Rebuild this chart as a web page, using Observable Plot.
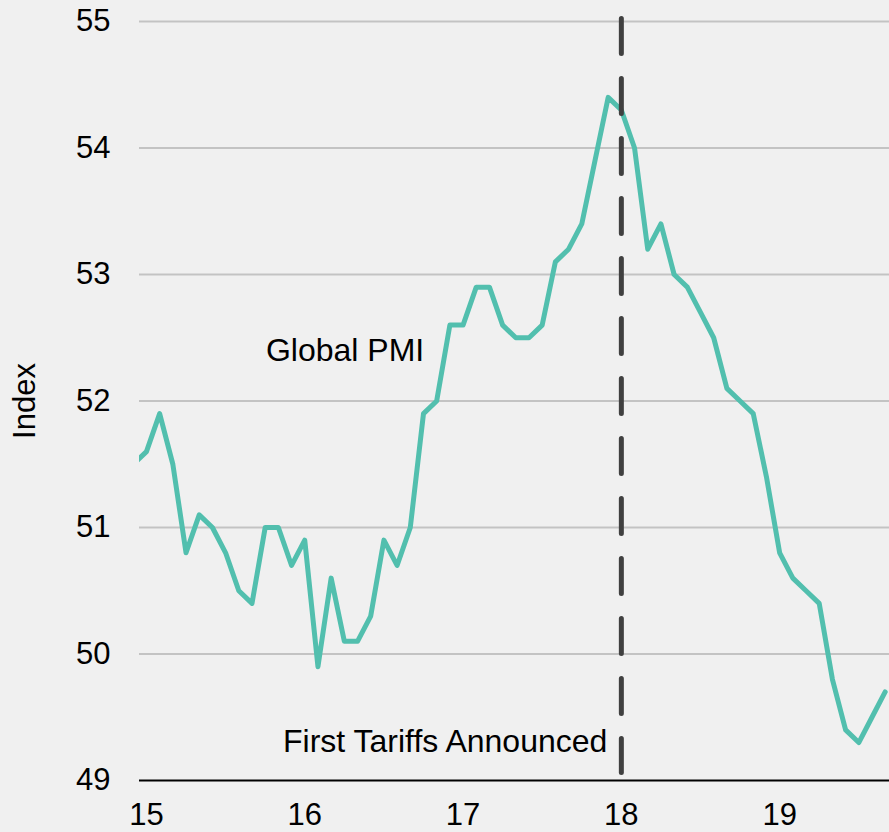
<!DOCTYPE html>
<html>
<head>
<meta charset="utf-8">
<script src="https://cdn.jsdelivr.net/npm/d3@7"></script>
<script src="https://cdn.jsdelivr.net/npm/@observablehq/plot@0.6"></script>
<style>
  html, body { margin: 0; padding: 0; background: #f0f0f0; }
  #chart { width: 889px; height: 832px; overflow: hidden; }
  svg { display: block; }
</style>
</head>
<body>
<div id="chart"></div>
<script>
// Monthly Global PMI, Dec 2014 .. Sep 2019
const months = [
  "2014-12",
  "2015-01","2015-02","2015-03","2015-04","2015-05","2015-06","2015-07","2015-08","2015-09","2015-10","2015-11","2015-12",
  "2016-01","2016-02","2016-03","2016-04","2016-05","2016-06","2016-07","2016-08","2016-09","2016-10","2016-11","2016-12",
  "2017-01","2017-02","2017-03","2017-04","2017-05","2017-06","2017-07","2017-08","2017-09","2017-10","2017-11","2017-12",
  "2018-01","2018-02","2018-03","2018-04","2018-05","2018-06","2018-07","2018-08","2018-09","2018-10","2018-11","2018-12",
  "2019-01","2019-02","2019-03","2019-04","2019-05","2019-06","2019-07","2019-08","2019-09"
];
const pmi = [
  51.5,
  51.6, 51.9, 51.5, 50.8, 51.1, 51.0, 50.8, 50.5, 50.4, 51.0, 51.0, 50.7,
  50.9, 49.9, 50.6, 50.1, 50.1, 50.3, 50.9, 50.7, 51.0, 51.9, 52.0, 52.6,
  52.6, 52.9, 52.9, 52.6, 52.5, 52.5, 52.6, 53.1, 53.2, 53.4, 53.9, 54.4,
  54.3, 54.0, 53.2, 53.4, 53.0, 52.9, 52.7, 52.5, 52.1, 52.0, 51.9, 51.4,
  50.8, 50.6, 50.5, 50.4, 49.8, 49.4, 49.3, 49.5, 49.7
];
const xTicks = [15, 16, 17, 18, 19];
const yTicks = [49, 50, 51, 52, 53, 54, 55];
const tariffDate = [18];          // Jan 2018 (two-digit year scale)
const seriesLabel = ["Global PMI"];
const eventLabel = ["First Tariffs Announced"];
const yLabel = ["Index"];

// decimal two-digit year for each month
const data = months.map((m, i) => {
  const [yy, mm] = m.split("-").map(Number);
  return { x: (yy - 2000) + (mm - 1) / 12, v: pmi[i] };
});

const font = "'Liberation Sans', Arial, Helvetica, sans-serif";
const teal = "#52bfae";

const chart = Plot.plot({
  width: 889,
  height: 832,
  marginLeft: 139,
  marginRight: 0,
  marginTop: 21,
  marginBottom: 52,
  style: { background: "#f0f0f0", fontFamily: font, fontSize: "31px", color: "#000", overflow: "hidden" },
  x: { domain: [14.956, 19.694], ticks: xTicks },
  y: { domain: [49, 55], ticks: yTicks },
  marks: [
    Plot.gridY(yTicks.filter(d => d > 49), { stroke: "#c3c3c3", strokeOpacity: 1, strokeWidth: 2 }),
    Plot.ruleY([49], { stroke: "#000", strokeWidth: 2 }),
    Plot.axisY(yTicks, { tickSize: 0, tickPadding: 29, fontSize: 31, fill: "#000", label: null, tickFormat: d => String(d) }),
    Plot.axisX(xTicks, { tickSize: 0, tickPadding: 22, fontSize: 31, fill: "#000", label: null, tickFormat: d => String(d) }),
    Plot.text(yLabel, { frameAnchor: "left", textAnchor: "middle", rotate: -90, dx: -114, fontSize: 31, fill: "#000" }),
    Plot.line(data, { x: "x", y: "v", stroke: teal, strokeWidth: 5, strokeLinejoin: "round", clip: true }),
    Plot.ruleX(tariffDate, { stroke: "#404040", strokeWidth: 5, strokeDasharray: "35,25", strokeLinecap: "round", insetTop: -2.5, insetBottom: 7.5 }),
    Plot.text(seriesLabel, { x: [16.255], y: [52.4], fontSize: 32, fill: "#000" }),
    Plot.text(eventLabel, { x: tariffDate, y: [49.31], textAnchor: "end", dx: -14, fontSize: 32, fill: "#000" })
  ]
});
document.getElementById("chart").appendChild(chart);
</script>
</body>
</html>
